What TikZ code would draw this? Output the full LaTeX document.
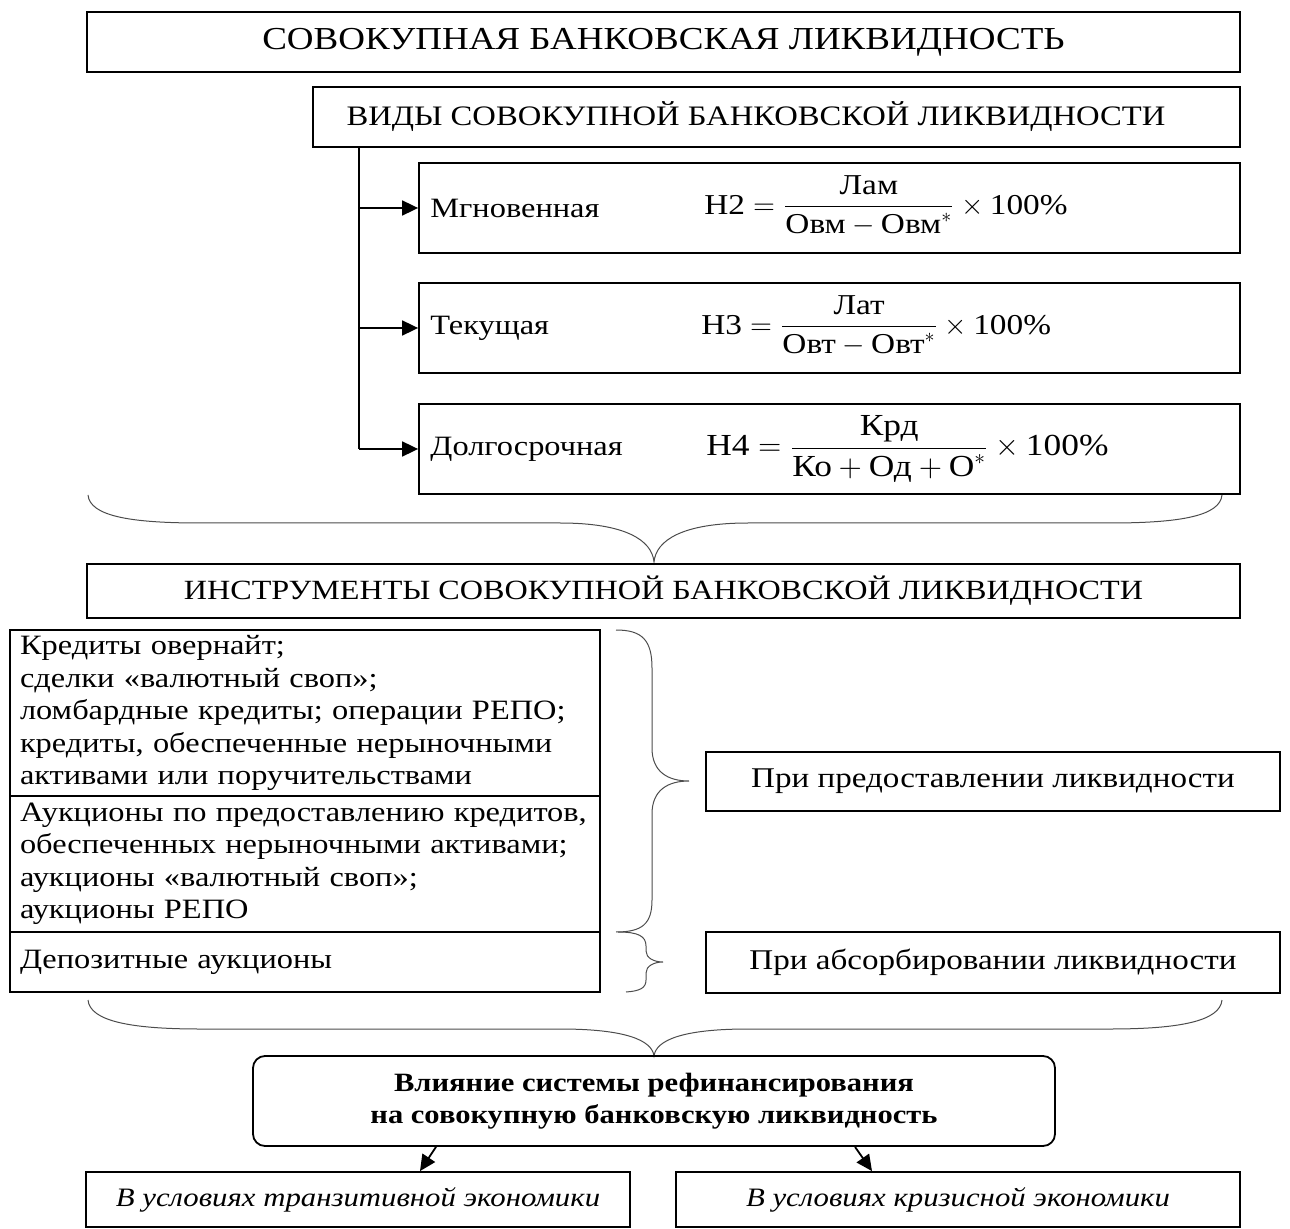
\RequirePackage{fix-cm}
\documentclass[tikz,border=0pt]{standalone}
\usepackage{fontspec}
\usepackage{amsmath}
\setmainfont{Liberation Serif}[FakeStretch=1.157]
\usetikzlibrary{arrows.meta}
\newcommand{\hdfont}{\fontsize{16}{18}\selectfont}
\newcommand{\hdfontb}{\fontsize{14.1}{16}\selectfont}
\newcommand{\insfont}{\fontsize{13.9}{16}\selectfont}
\newcommand{\bdfont}{\fontsize{14}{16.25}\selectfont}
\newcommand{\rtfont}{\fontsize{14.3}{16.25}\selectfont}
\newcommand{\bffont}{\fontsize{13.2}{16}\selectfont\bfseries}
\newcommand{\itfont}{\fontsize{13.3}{16}\selectfont\itshape}
\newcommand{\fmfont}{\fontsize{14.4}{16}\selectfont}
\newcommand{\fmbig}{\fontsize{15.3}{17}\selectfont}
\tikzset{
  box/.style={draw, line width=0.9pt, inner sep=0pt, align=center},
  lbox/.style={draw, line width=0.9pt, inner xsep=5pt, inner ysep=0pt, align=left, anchor=center},
  txt/.style={inner sep=0pt},
  brace/.style={line width=0.5pt, draw=black!70},
  arr/.style={line width=0.9pt, -{Triangle[length=8pt,width=7.5pt]}},
  sarr/.style={line width=0.9pt, -{Triangle[length=8pt,width=7.5pt]}},
}
\begin{document}
\begin{tikzpicture}[x=0.5pt,y=-0.5pt]
\useasboundingbox (0,0) rectangle (1290,1229);
% headers
\node[box, minimum width=576.5pt, minimum height=30pt, font=\hdfont] (b1) at (663.5,42) {СОВОКУПНАЯ БАНКОВСКАЯ ЛИКВИДНОСТЬ};
\node[box, minimum width=463.5pt, minimum height=30pt] (b2) at (776.5,117) {};
\node[txt, font=\hdfontb] (b2t) at (756,117) {ВИДЫ СОВОКУПНОЙ БАНКОВСКОЙ ЛИКВИДНОСТИ};
% kinds
\node[box, minimum width=410.5pt, minimum height=45pt] (s1) at (829.5,208) {};
\node[box, minimum width=410.5pt, minimum height=45pt] (s2) at (829.5,328) {};
\node[box, minimum width=410.5pt, minimum height=45pt] (s3) at (829.5,449) {};
\node[txt, anchor=west, font=\bdfont] (t1) at (430,208) {Мгновенная};
\node[txt, anchor=west, font=\bdfont] (t2) at (430,328) {Текущая};
\node[txt, anchor=west, font=\bdfont] (t3) at (430,449) {Долгосрочная};
\node[txt, anchor=west, font=\fmfont] (f1) at (704,206) {$\mbox{Н2} = \dfrac{\mbox{Лам}}{\mbox{Овм} - \mbox{Овм}^{*}} \times \mbox{100\%}$};
\node[txt, anchor=west, font=\fmfont] (f2) at (701,326) {$\mbox{Н3} = \dfrac{\mbox{Лат}}{\mbox{Овт} - \mbox{Овт}^{*}} \times \mbox{100\%}$};
\node[txt, anchor=west, font=\fmbig] (f3) at (706,449) {$\mbox{Н4} = \dfrac{\mbox{Крд}}{\mbox{Ко} + \mbox{Од} + \mbox{О}^{*}} \times \mbox{100\%}$};
\coordinate (trunk) at (359,147);
\draw[line width=0.9pt] (trunk) -- (s3.west -| trunk);
\draw[arr] (s1.west -| trunk) -- (s1.west);
\draw[arr] (s2.west -| trunk) -- (s2.west);
\draw[arr] (s3.west -| trunk) -- (s3.west);
% brace 1
\draw[brace] (88,495) .. controls (90,516) and (130,523) .. (200,523) -- (560,523) .. controls (625,523) and (652,540) .. (654,562)
  .. controls (656,540) and (683,523) .. (748,523) -- (1110,523) .. controls (1180,523) and (1220,516) .. (1222,495);
% instruments
\node[box, minimum width=576.5pt, minimum height=27pt, font=\insfont] (ins) at (663.5,591) {ИНСТРУМЕНТЫ СОВОКУПНОЙ БАНКОВСКОЙ ЛИКВИДНОСТИ};
\node[lbox, minimum width=295pt, minimum height=83pt, text width=285pt, font=\bdfont] (l1) at (305,713) {Кредиты овернайт;\\сделки «валютный своп»;\\ломбардные кредиты; операции РЕПО;\\кредиты, обеспеченные нерыночными\\активами или поручительствами};
\node[lbox, minimum width=295pt, minimum height=68pt, text width=285pt, font=\bdfont] (l2) at (305,864) {Аукционы по предоставлению кредитов,\\обеспеченных нерыночными активами;\\аукционы «валютный своп»;\\аукционы РЕПО\vphantom{g}\\[-6pt]};
\node[lbox, minimum width=295pt, minimum height=30pt, text width=285pt, font=\bdfont] (l3) at (305,962) {Депозитные аукционы};
\node[box, minimum width=287pt, minimum height=29.5pt, font=\rtfont] (r1) at (993,781.5) {При предоставлении ликвидности};
\node[box, minimum width=287pt, minimum height=30.5pt, font=\rtfont] (r2) at (993,962.5) {При абсорбировании ликвидности};
% big brace
\draw[brace] (616,630) .. controls (642,630) and (652,640) .. (652,668) -- (652,748) .. controls (652,772) and (668,781) .. (689,781)
  .. controls (668,781) and (652,790) .. (652,814) -- (652,900) .. controls (652,924) and (642,932) .. (616,932);
% small brace
\draw[brace] (618,932) .. controls (638,932) and (646,936) .. (646,946) -- (646,951) .. controls (646,958) and (654,962) .. (663,962)
  .. controls (654,962) and (646,966) .. (646,973) -- (646,980) .. controls (646,988) and (640,991) .. (626,992);
% brace 2
\draw[brace] (88,1000) .. controls (90,1021) and (130,1029) .. (200,1029) -- (560,1029) .. controls (625,1029) and (652,1040) .. (654,1056)
  .. controls (656,1040) and (683,1029) .. (748,1029) -- (1110,1029) .. controls (1180,1029) and (1220,1021) .. (1222,1000);
% influence
\node[box, rounded corners=6pt, minimum width=401pt, minimum height=45pt, font=\bffont] (rb) at (654,1101) {Влияние системы рефинансирования\\на совокупную банковскую ликвидность};
\node[box, minimum width=272pt, minimum height=27.5pt, font=\itfont] (c1) at (358,1199.5) {В условиях транзитивной экономики};
\node[box, minimum width=282pt, minimum height=27.5pt, font=\itfont] (c2) at (958,1199.5) {В условиях кризисной экономики};
\draw[sarr] (rb.south -| 436,0) -- (c1.north -| 420,0);
\draw[sarr] (rb.south -| 855,0) -- (c2.north -| 872,0);
\end{tikzpicture}
\end{document}
